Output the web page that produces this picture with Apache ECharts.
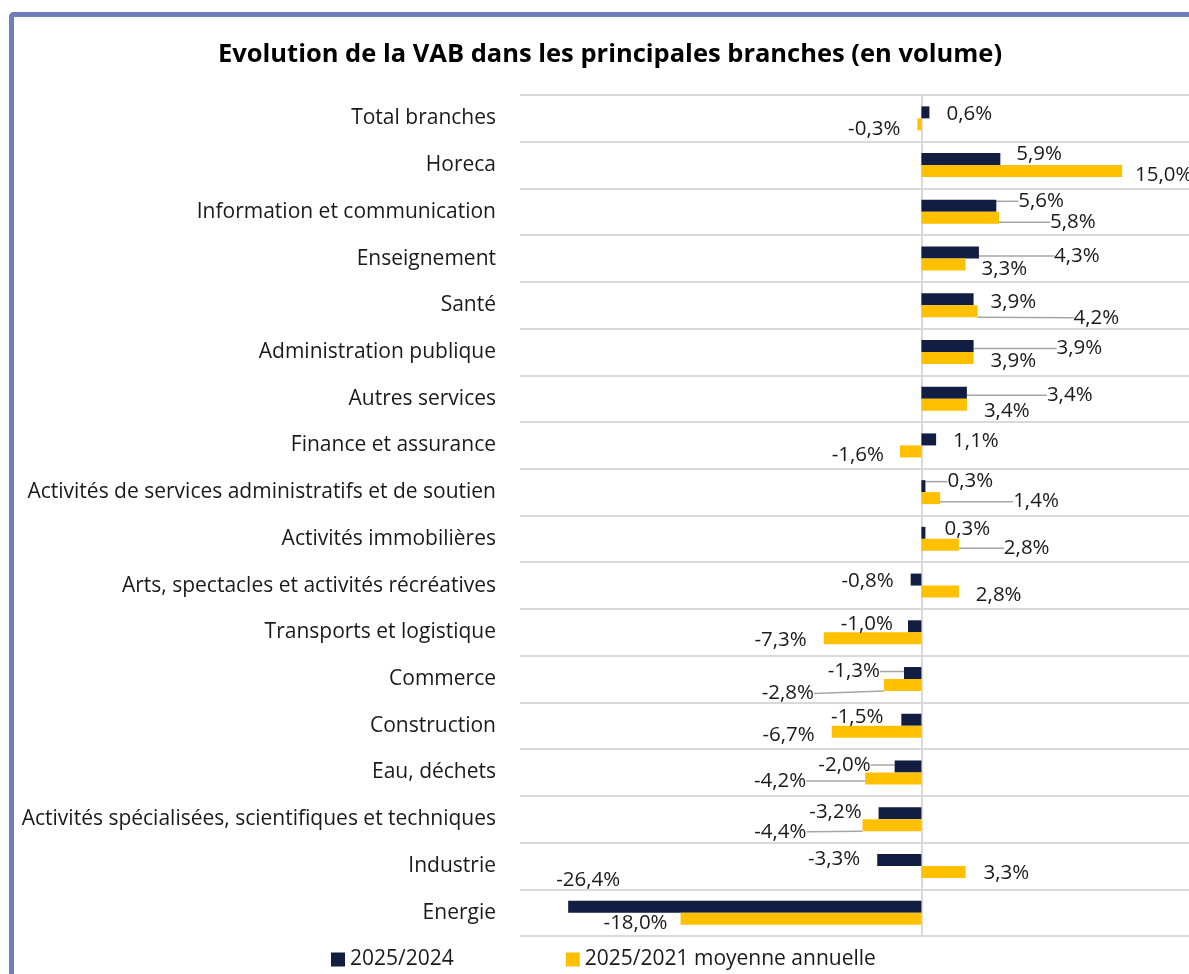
<!DOCTYPE html>
<html>
<head>
<meta charset="utf-8">
<script src="https://cdn.jsdelivr.net/npm/echarts@6/dist/echarts.min.js"></script>
<style>
    html, body { margin: 0; padding: 0; background: #fff; }
    #frame {
        position: absolute; left: 9px; top: 12px; width: 1300px; height: 1100px;
        border-left: 5px solid #6f7fbe; border-top: 5px solid #6f7fbe; border-top-left-radius: 5px;
    }
    #chart-container { position: absolute; left: 0; top: 0; width: 1189px; height: 974px; }
</style>
</head>
<body>
<div id="frame"></div>
<div id="chart-container"></div>
<script>
// branches, top to bottom
const categories = [
    'Total branches',
    'Horeca',
    'Information et communication',
    'Enseignement',
    'Santé',
    'Administration publique',
    'Autres services',
    'Finance et assurance',
    'Activités de services administratifs et de soutien',
    'Activités immobilières',
    'Arts, spectacles et activités récréatives',
    'Transports et logistique',
    'Commerce',
    'Construction',
    'Eau, déchets',
    'Activités spécialisées, scientifiques et techniques',
    'Industrie',
    'Energie'
];
const seriesNames = ['2025/2024', '2025/2021 moyenne annuelle'];
const values2024 = [0.6, 5.9, 5.6, 4.3, 3.9, 3.9, 3.4, 1.1, 0.3, 0.3, -0.8, -1.0, -1.3, -1.5, -2.0, -3.2, -3.3, -26.4];
const values2021 = [-0.3, 15.0, 5.8, 3.3, 4.2, 3.9, 3.4, -1.6, 1.4, 2.8, 2.8, -7.3, -2.8, -6.7, -4.2, -4.4, 3.3, -18.0];

// label nudges (px) copied from the excel layout, plus which ones get a leader line
const shift2024 = [[12, 0], [11, -6], [17, -6], [70, 2], [12, 1], [78, 1], [75, 1], [12, 0], [17, -6], [14, -5],
    [-12, 0], [-10, -4], [-19, -3], [-13, -4], [-19, -3], [-12, -3], [-12, -2], [57, -28]];
const shift2021 = [[-12, 3], [8, 3], [46, 3], [11, 3], [91, 5], [12, 2], [12, 5], [-11, 2], [68, 2], [40, 2],
    [12, 2], [-12, 0], [-65, 7], [-12, 2], [-54, 1], [-51, 5], [13, 0], [-8, 3]];
const leader2024 = [0, 0, 1, 1, 0, 1, 1, 0, 1, 0, 0, 0, 1, 0, 1, 0, 0, 0];
const leader2021 = [0, 0, 1, 0, 1, 0, 0, 0, 1, 1, 0, 0, 1, 0, 1, 1, 0, 0];

const colors = ['#111d41', '#ffc000'];
const fontFamily = '"Open Sans", "Noto Sans", sans-serif';

function fmt(v) {
    return v.toFixed(1).replace('.', ',') + '%';
}

function buildData(values, leaders) {
    return values.map((v, i) => ({
        value: v,
        label: { position: v < 0 ? 'left' : 'right' },
        labelLine: { show: !!leaders[i] }
    }));
}

function buildSeries(idx, values, shifts, leaders) {
    return {
        name: seriesNames[idx],
        type: 'bar',
        barWidth: 12,
        barGap: '0%',
        itemStyle: { color: colors[idx] },
        data: buildData(values, leaders),
        label: {
            show: true,
            distance: 5,
            color: '#1a1a1a',
            fontSize: 20.5,
            fontFamily: fontFamily,
            formatter: p => fmt(p.value)
        },
        labelLine: {
            lineStyle: { color: '#a6a6a6', width: 1.5 }
        },
        labelLayout: function (params) {
            const o = shifts[params.dataIndex];
            return { dx: o[0], dy: o[1] + 1.5 };
        }
    };
}

const chart = echarts.init(document.getElementById('chart-container'), null, { renderer: 'canvas' });

const option = {
    animation: false,
    title: {
        text: 'Evolution de la VAB dans les principales branches (en volume)',
        left: 605,
        textAlign: 'center',
        top: 37,
        textStyle: { fontFamily: fontFamily, fontSize: 25.5, fontWeight: 'bold', color: '#000' }
    },
    legend: {
        left: 326,
        top: 944,
        itemWidth: 14,
        itemHeight: 14,
        itemGap: 112,
        icon: 'rect',
        textStyle: { fontFamily: fontFamily, fontSize: 21, color: '#1a1a1a' },
        data: seriesNames
    },
    grid: { left: 520, right: 0, top: 95, bottom: 38, containLabel: false },
    xAxis: {
        type: 'value',
        min: -30,
        max: 20,
        axisLabel: { show: false },
        axisLine: { show: false },
        axisTick: { show: false },
        splitLine: { show: false }
    },
    yAxis: {
        type: 'category',
        inverse: true,
        data: categories,
        axisTick: { show: false },
        axisLine: { show: true, onZero: true, lineStyle: { color: '#d9d9d9', width: 2 } },
        splitLine: { show: true, lineStyle: { color: '#d9d9d9', width: 2 } },
        axisLabel: {
            margin: 24,
            fontFamily: fontFamily,
            fontSize: 21,
            color: '#1a1a1a'
        }
    },
    series: [
        buildSeries(0, values2024, shift2024, leader2024),
        buildSeries(1, values2021, shift2021, leader2021)
    ]
};

chart.setOption(option);
</script>
</body>
</html>
